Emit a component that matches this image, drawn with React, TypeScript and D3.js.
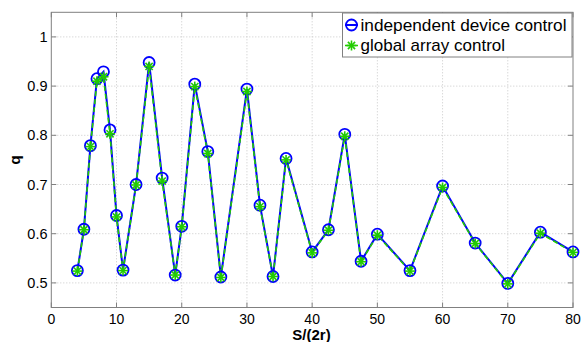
import React from "react";
import * as d3 from "d3";

const xValues = [4, 5, 6, 7, 8, 9, 10, 11, 13, 15, 17, 19, 20, 22, 24, 26, 30, 32, 34, 36, 40, 42.5, 45, 47.5, 50, 55, 60, 65, 70, 75, 80];
const independent = [0.525, 0.609, 0.779, 0.915, 0.929, 0.811, 0.637, 0.526, 0.700, 0.948, 0.713, 0.516, 0.615, 0.904, 0.767, 0.512, 0.894, 0.658, 0.513, 0.753, 0.563, 0.608, 0.802, 0.544, 0.599, 0.525, 0.697, 0.581, 0.499, 0.603, 0.563];
const globalArr = [0.524, 0.608, 0.777, 0.910, 0.919, 0.803, 0.634, 0.525, 0.699, 0.940, 0.707, 0.516, 0.614, 0.899, 0.763, 0.511, 0.889, 0.655, 0.513, 0.750, 0.561, 0.607, 0.798, 0.543, 0.597, 0.524, 0.694, 0.580, 0.498, 0.601, 0.562];
const xTicks = [0, 10, 20, 30, 40, 50, 60, 70, 80];
const yTicks = [0.5, 0.6, 0.7, 0.8, 0.9, 1];
const seriesNames = ["independent device control", "global array control"];

const W = 587, H = 342;
const L = 51.3, R = 573, T = 12.3, B = 307.5;
const font = "Liberation Sans, Arial, sans-serif";
const axisColor = "#808080";

function Star({ x, y, s = 5 }: { x: number; y: number; s?: number }) {
  const d = s * 0.72;
  return (
    <g stroke="#22cc00" strokeWidth={1.6}>
      <line x1={x - s} y1={y} x2={x + s} y2={y} />
      <line x1={x} y1={y - s} x2={x} y2={y + s} />
      <line x1={x - d} y1={y - d} x2={x + d} y2={y + d} />
      <line x1={x - d} y1={y + d} x2={x + d} y2={y - d} />
    </g>
  );
}

export default function App() {
  const x = d3.scaleLinear().domain([0, 80]).range([L, R]);
  const y = d3.scaleLinear().domain([0.45, 1.05]).range([B, T]);
  const line1 = d3.line<number>().x((_, i) => x(xValues[i])).y((v) => y(v));
  const p1 = line1(independent) || "";
  const p2 = line1(globalArr) || "";
  const tickLen = 5;
  return (
    <svg width={W} height={H} style={{ position: "absolute", left: 0, top: 0, background: "#fff" }}>
      <rect x={0} y={0} width={W} height={H} fill="#fff" />
      {xTicks.slice(1, -1).map((t) => (
        <line key={"gx" + t} x1={x(t)} x2={x(t)} y1={T} y2={B} stroke="#c8c8c8" strokeWidth={1} strokeDasharray="1,2" />
      ))}
      {yTicks.map((t) => (
        <line key={"gy" + t} x1={L} x2={R} y1={y(t)} y2={y(t)} stroke="#c8c8c8" strokeWidth={1} strokeDasharray="1,2" />
      ))}
      <rect x={L} y={T} width={R - L} height={B - T} fill="none" stroke={axisColor} strokeWidth={1} />
      {xTicks.map((t) => (
        <g key={"tx" + t}>
          <line x1={x(t)} x2={x(t)} y1={B} y2={B - tickLen} stroke={axisColor} />
          <line x1={x(t)} x2={x(t)} y1={T} y2={T + tickLen} stroke={axisColor} />
          <text x={x(t)} y={323.5} textAnchor="middle" fontFamily={font} fontSize={14} fill="#000">{t}</text>
        </g>
      ))}
      {yTicks.map((t) => (
        <g key={"ty" + t}>
          <line x1={L} x2={L + tickLen} y1={y(t)} y2={y(t)} stroke={axisColor} />
          <line x1={R} x2={R - tickLen} y1={y(t)} y2={y(t)} stroke={axisColor} />
          <text x={47.5} y={y(t) + 5} textAnchor="end" fontFamily={font} fontSize={14.5} fill="#000">{t === 1 ? "1" : t.toFixed(1)}</text>
        </g>
      ))}
      <path d={p1} fill="none" stroke="#0000ff" strokeWidth={2} />
      <path d={p2} fill="none" stroke="#22cc00" strokeWidth={1.6} strokeDasharray="5,3" />
      {independent.map((v, i) => (
        <circle key={"c" + i} cx={x(xValues[i])} cy={y(v)} r={5.5} fill="none" stroke="#0000ff" strokeWidth={1.8} />
      ))}
      {globalArr.map((v, i) => (
        <Star key={"s" + i} x={x(xValues[i])} y={y(v)} />
      ))}
      <text x={311.5} y={339.5} textAnchor="middle" fontFamily={font} fontSize={15} fontWeight="bold" fill="#000">S/(2r)</text>
      <text transform="translate(20,160) rotate(-90)" textAnchor="middle" fontFamily={font} fontSize={15.5} fontWeight="bold" fill="#000">q</text>
      <rect x={342.5} y={13} width={229.5} height={44} fill="#fff" stroke={axisColor} strokeWidth={1} />
      <line x1={345} x2={358} y1={25} y2={25} stroke="#0000ff" strokeWidth={2} />
      <circle cx={351.5} cy={25} r={5.5} fill="none" stroke="#0000ff" strokeWidth={1.8} />
      <text x={360.5} y={31} fontFamily={font} fontSize={17} fill="#000" textLength={206} lengthAdjust="spacingAndGlyphs">{seriesNames[0]}</text>
      <line x1={345} x2={358} y1={45.5} y2={45.5} stroke="#22cc00" strokeWidth={1.6} strokeDasharray="5,3" />
      <Star x={351.5} y={45.5} />
      <text x={360.5} y={51} fontFamily={font} fontSize={17} fill="#000">{seriesNames[1]}</text>
    </svg>
  );
}
